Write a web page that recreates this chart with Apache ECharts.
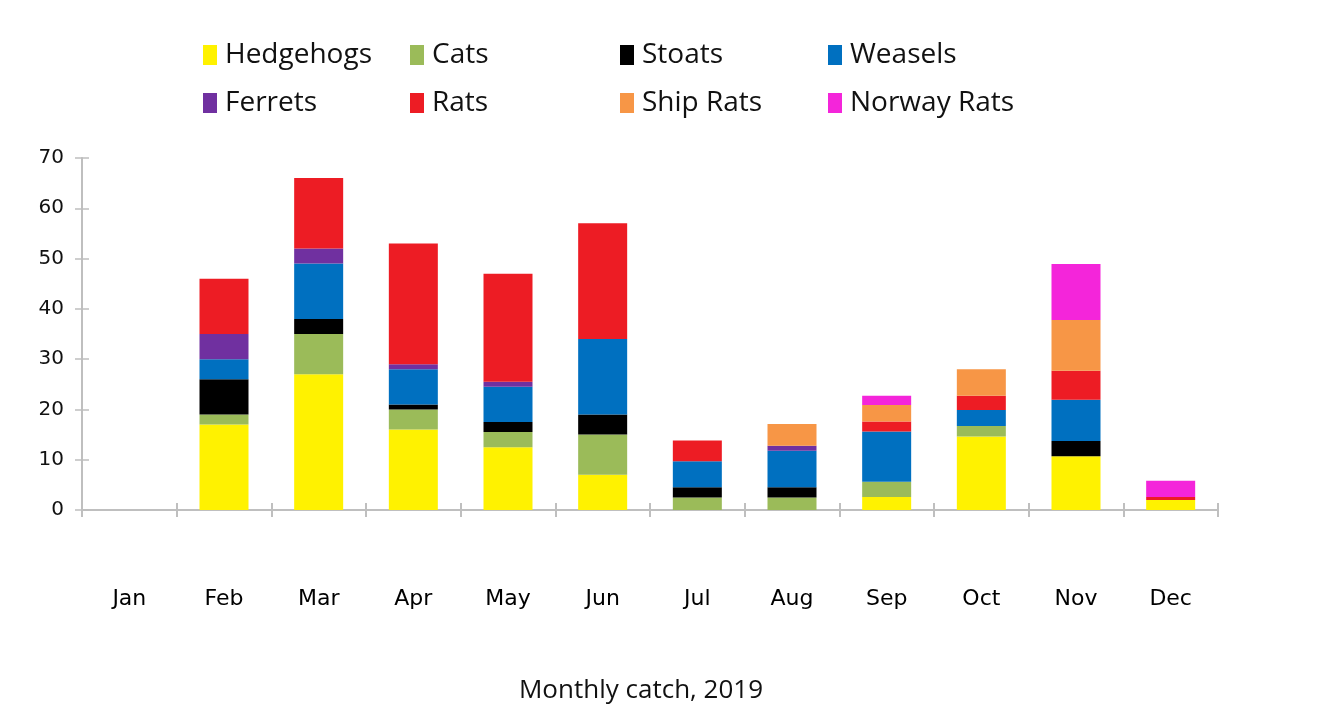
<!DOCTYPE html>
<html><head><meta charset="utf-8">
<script src="https://cdn.jsdelivr.net/npm/echarts@6/dist/echarts.min.js"></script>
<style>html,body{margin:0;padding:0;background:#fff}#c{width:1318px;height:720px}</style>
</head><body><div id="c"></div>
<script>
const months = ['Jan','Feb','Mar','Apr','May','Jun','Jul','Aug','Sep','Oct','Nov','Dec'];
const seriesNames = ['Hedgehogs','Cats','Stoats','Weasels','Ferrets','Rats','Ship Rats','Norway Rats'];
const hedgehogs  = [0, 17, 27, 16, 12.5, 7, 0, 0, 2.6, 14.6, 10.7, 2];
const cats       = [0, 2, 8, 4, 3, 8, 2.5, 2.5, 3, 2.1, 0, 0];
const stoats     = [0, 7, 3, 1, 2, 4, 2, 2, 0, 0, 3, 0];
const weasels    = [0, 4, 11, 7, 7, 15, 5.2, 7.3, 10, 3.2, 8.2, 0];
const ferrets    = [0, 5, 3, 1, 1, 0, 0, 1, 0, 0, 0, 0];
const rats       = [0, 11, 14, 24, 21.5, 23, 4.1, 0, 2, 2.8, 5.8, 0.6];
const shipRats   = [0, 0, 0, 0, 0, 0, 0, 4.3, 3.3, 5.3, 10.1, 0];
const norwayRats = [0, 0, 0, 0, 0, 0, 0, 0, 1.8, 0, 11.1, 3.2];
const yTicks = [0, 10, 20, 30, 40, 50, 60, 70];
const title = 'Monthly catch, 2019';

const values = [hedgehogs, cats, stoats, weasels, ferrets, rats, shipRats, norwayRats];
const colors = ['#FFF200','#9BBB59','#000000','#0070C0','#7030A0','#ED1C24','#F79646','#F425DA'];
const legendCols = [198, 405, 615, 823];
const legendRows = [36, 84];

const legends = seriesNames.map((n, i) => ({
  data: [n],
  left: legendCols[i % 4],
  top: legendRows[Math.floor(i / 4)],
  icon: 'rect',
  itemWidth: 14,
  itemHeight: 20,
  selectedMode: false,
  textStyle: { fontFamily: 'Open Sans', fontSize: 28, color: '#111', lineHeight: 26, padding: [0,0,0,3] }
}));

const axisGray = '#BFBFBF';
const chart = echarts.init(document.getElementById('c'), null, { renderer: 'canvas' });
chart.setOption({
  animation: false,
  backgroundColor: '#ffffff',
  title: {
    text: title, left: 636, top: 673, textAlign: 'center',
    textStyle: { fontFamily: 'Open Sans', fontSize: 26, fontWeight: 'normal', color: '#111' }
  },
  legend: legends,
  grid: { left: 82, right: 100, top: 158, bottom: 210 },
  xAxis: [{
    type: 'category', data: months, boundaryGap: true,
    axisLine: { lineStyle: { color: axisGray, width: 2 } },
    axisTick: { show: true, length: 7, lineStyle: { color: axisGray, width: 2 } },
    axisLabel: { margin: 78, fontFamily: 'DejaVu Sans', fontSize: 22, color: '#000' }
  }, {
    type: 'category', data: months, boundaryGap: true, position: 'bottom',
    axisLine: { show: false },
    axisTick: { show: true, inside: true, length: 7, lineStyle: { color: axisGray, width: 2 } },
    axisLabel: { show: false }
  }],
  yAxis: [{
    type: 'value', min: 0, max: 70, interval: 10,
    splitLine: { show: false },
    axisLine: { show: true, lineStyle: { color: axisGray, width: 2 } },
    axisTick: { show: true, length: 7, lineStyle: { color: axisGray, width: 1.5 } },
    axisLabel: { margin: 18, fontFamily: 'DejaVu Sans', fontSize: 20, color: '#111',
      formatter: v => yTicks.includes(v) ? String(v) : '' }
  }, {
    type: 'value', min: 0, max: 70, interval: 10, position: 'left',
    splitLine: { show: false },
    axisLine: { show: false },
    axisTick: { show: true, inside: true, length: 7, lineStyle: { color: axisGray, width: 1.5 } },
    axisLabel: { show: false }
  }],
  series: seriesNames.map((n, i) => ({
    name: n, type: 'bar', stack: 'total', barWidth: 49,
    xAxisIndex: 0, yAxisIndex: 0,
    itemStyle: { color: colors[i] },
    data: values[i].map(v => v === 0 ? null : v)
  }))
});
</script></body></html>
